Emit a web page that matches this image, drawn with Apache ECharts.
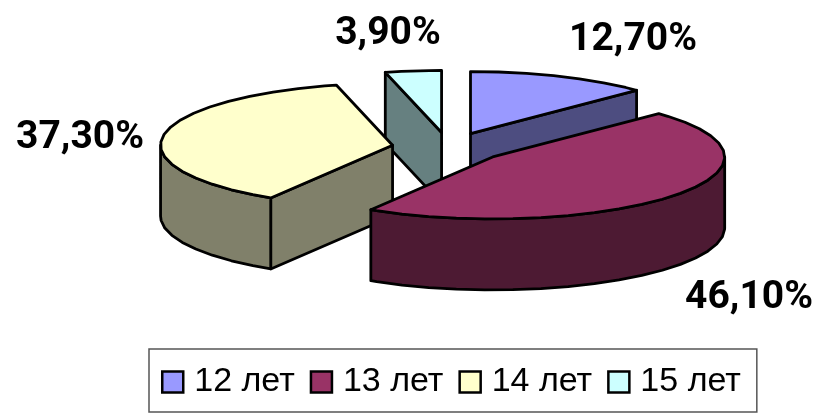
<!DOCTYPE html>
<html>
<head>
<meta charset="utf-8">
<style>html,body{margin:0;padding:0;background:#fff}#c{width:817px;height:413px}</style>
<script src="https://cdn.jsdelivr.net/npm/echarts@6/dist/echarts.min.js"></script>
</head>
<body>
<div id="c"></div>
<script>
var categories = ['12 лет', '13 лет', '14 лет', '15 лет'];
var values = [12.7, 46.1, 37.3, 3.9];
var valueLabels = ['12,70%', '46,10%', '37,30%', '3,90%'];
var topColors = ['#9999FF', '#993366', '#FFFFCC', '#CCFFFF'];
var sideColors = ['#4D4D80', '#4D1A33', '#80806A', '#668080'];
var drawOrder = [0, 3, 2, 1];

// pie projection
var CX = 448.5, CY = 147.5, RX = 232, RY = 62, DEPTH = 71, EXPLODE = 0.244, STEP = 7;
var labelAt = [[633, 40], [749, 298], [80, 138], [388, 34]];
var total = values.reduce(function (a, b) { return a + b; }, 0);

function dir(deg) { var r = deg * Math.PI / 180; return [Math.sin(r), -Math.cos(r)]; }
function sliceRange(i) {
  var before = 0;
  for (var k = 0; k < i; k++) before += values[k];
  return [before / total * 360, (before + values[i]) / total * 360];
}
function arcAngles(a, b) {
  var out = [a];
  for (var t = Math.ceil(a / STEP) * STEP; t < b; t += STEP) if (t > a) out.push(t);
  out.push(b);
  return out;
}
function renderSlice(i) {
  var range = sliceRange(i), a = range[0], b = range[1], mid = (a + b) / 2;
  var m = dir(mid);
  var cx = CX + m[0] * RX * EXPLODE, cy = CY + m[1] * RY * EXPLODE;
  var pt = function (deg) { var d = dir(deg); return [cx + d[0] * RX, cy + d[1] * RY]; };
  var line = { stroke: '#000', lineWidth: 2.8, lineJoin: 'round' };
  var poly = function (points, fill) {
    return { type: 'polygon', shape: { points: points },
      style: Object.assign({ fill: fill }, line) };
  };
  var kids = [];
  var q = pt(mid);
  [a, b].forEach(function (deg) {
    var p = pt(deg);
    var px = p[0] - cx, py = p[1] - cy;
    var inner = px * (q[1] - cy) - py * (q[0] - cx);
    if (Math.abs(px) > 1 && inner * px < 0) {
      kids.push(poly([[cx, cy], p, [p[0], p[1] + DEPTH], [cx, cy + DEPTH]], sideColors[i]));
    }
  });
  var from = Math.max(a, 90), to = Math.min(b, 270);
  if (to > from) {
    var upper = arcAngles(from, to).map(pt);
    var lower = upper.map(function (p) { return [p[0], p[1] + DEPTH]; }).reverse();
    kids.push(poly(upper.concat(lower), sideColors[i]));
  }
  var top = [[cx, cy]].concat(arcAngles(a, b).map(pt));
  kids.push(poly(top, topColors[i]));
  kids.push({ type: 'text', x: labelAt[i][0], y: labelAt[i][1],
    style: { text: valueLabels[i], font: 'bold 39px Roboto', fill: '#000',
      align: 'center', verticalAlign: 'middle' } });
  return { type: 'group', children: kids };
}

var chart = echarts.init(document.getElementById('c'), null, { renderer: 'canvas' });
chart.setOption({
  animation: false,
  backgroundColor: '#fff',
  legend: {
    data: categories,
    left: 149, top: 349,
    orient: 'horizontal',
    backgroundColor: '#fff',
    borderColor: '#555', borderWidth: 1.5,
    padding: [16, 16, 13, 12],
    itemWidth: 21, itemHeight: 21, itemGap: 15,
    icon: 'rect',
    selectedMode: false,
    itemStyle: { borderColor: '#000', borderWidth: 2.5 },
    textStyle: { fontFamily: 'Liberation Sans', fontSize: 34, color: '#000', padding: [0, 0, 0, 6] }
  },
  series: drawOrder.map(function (i) {
    return {
      type: 'custom',
      name: categories[i],
      coordinateSystem: 'none',
      silent: true,
      itemStyle: { color: topColors[i] },
      data: [values[i]],
      renderItem: function () { return renderSlice(i); }
    };
  })
});
</script>
</body>
</html>
